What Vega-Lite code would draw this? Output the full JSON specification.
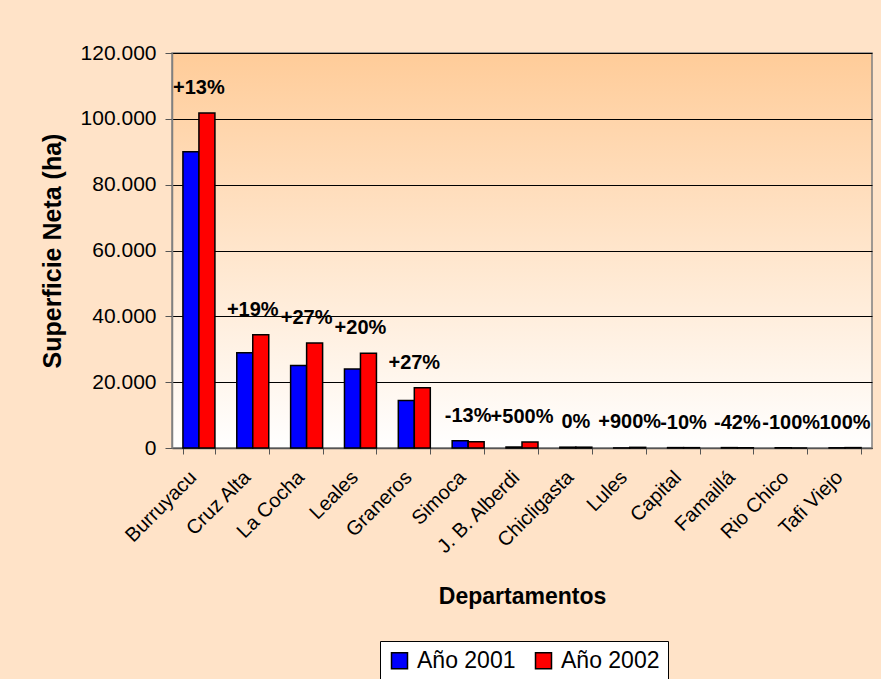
{
  "$schema": "https://vega.github.io/schema/vega-lite/v6.json",
  "width": 700,
  "height": 395,
  "autosize": {"type": "none"},
  "padding": {"left": 172, "top": 53, "right": 9, "bottom": 231},
  "background": "#FFE3C8",
  "config": {
    "font": "Liberation Sans",
    "locale": {"number": {"decimal": ",", "thousands": ".", "grouping": [3], "currency": ["$", ""]}},
    "view": {
      "fill": {"gradient": "linear", "x1": 0, "y1": 0, "x2": 0, "y2": 1,
        "stops": [{"offset": 0, "color": "#FFCC99"}, {"offset": 1, "color": "#FFFFFF"}]},
      "stroke": "#808080",
      "strokeWidth": 1.5
    }
  },
  "data": {"values": [
    {"dept": "Burruyacu", "year": "Año 2001", "value": 90000, "label": "+13%"},
    {"dept": "Burruyacu", "year": "Año 2002", "value": 101800, "label": "+13%"},
    {"dept": "Cruz Alta", "year": "Año 2001", "value": 28900, "label": "+19%"},
    {"dept": "Cruz Alta", "year": "Año 2002", "value": 34400, "label": "+19%"},
    {"dept": "La Cocha", "year": "Año 2001", "value": 25100, "label": "+27%"},
    {"dept": "La Cocha", "year": "Año 2002", "value": 31900, "label": "+27%"},
    {"dept": "Leales", "year": "Año 2001", "value": 24000, "label": "+20%"},
    {"dept": "Leales", "year": "Año 2002", "value": 28800, "label": "+20%"},
    {"dept": "Graneros", "year": "Año 2001", "value": 14400, "label": "+27%"},
    {"dept": "Graneros", "year": "Año 2002", "value": 18300, "label": "+27%"},
    {"dept": "Simoca", "year": "Año 2001", "value": 2200, "label": "-13%"},
    {"dept": "Simoca", "year": "Año 2002", "value": 1900, "label": "-13%"},
    {"dept": "J. B. Alberdi", "year": "Año 2001", "value": 300, "label": "+500%"},
    {"dept": "J. B. Alberdi", "year": "Año 2002", "value": 1800, "label": "+500%"},
    {"dept": "Chicligasta", "year": "Año 2001", "value": 250, "label": "0%"},
    {"dept": "Chicligasta", "year": "Año 2002", "value": 250, "label": "0%"},
    {"dept": "Lules", "year": "Año 2001", "value": 20, "label": "+900%"},
    {"dept": "Lules", "year": "Año 2002", "value": 200, "label": "+900%"},
    {"dept": "Capital", "year": "Año 2001", "value": 120, "label": "-10%"},
    {"dept": "Capital", "year": "Año 2002", "value": 108, "label": "-10%"},
    {"dept": "Famaillá", "year": "Año 2001", "value": 120, "label": "-42%"},
    {"dept": "Famaillá", "year": "Año 2002", "value": 70, "label": "-42%"},
    {"dept": "Rio Chico", "year": "Año 2001", "value": 80, "label": "-100%"},
    {"dept": "Rio Chico", "year": "Año 2002", "value": 0, "label": "-100%"},
    {"dept": "Tafi Viejo", "year": "Año 2001", "value": 60, "label": "100%"},
    {"dept": "Tafi Viejo", "year": "Año 2002", "value": 120, "label": "100%"}
  ]},
  "layer": [
    {
      "mark": {"type": "bar", "stroke": "black", "strokeWidth": 1.5},
      "encoding": {
        "x": {
          "field": "dept", "type": "nominal", "sort": null,
          "scale": {"paddingInner": 0.406, "paddingOuter": 0.203},
          "axis": {
            "title": "Departamentos", "labelAngle": -45, "labelFontSize": 20, "labelColor": "black",
            "labelBaseline": "middle", "labelAlign": "right", "labelPadding": 20, "labelOffset": -6,
            "titleFontSize": 23, "titleFontWeight": "bold", "titleColor": "black", "titlePadding": 28,
            "tickBand": "extent", "tickSize": 6, "tickColor": "#555555", "domainColor": "#555555", "domainWidth": 1.5
          }
        },
        "xOffset": {"field": "year", "type": "nominal", "scale": {"paddingInner": 0, "paddingOuter": 0}},
        "y": {
          "field": "value", "type": "quantitative",
          "scale": {"domain": [0, 120000], "nice": false},
          "axis": {
            "title": "Superficie Neta (ha)", "values": [0, 20000, 40000, 60000, 80000, 100000, 120000],
            "format": ",d", "labelFontSize": 21, "labelColor": "black", "labelPadding": 9,
            "titleFontSize": 25, "titleFontWeight": "bold", "titleColor": "black", "titlePadding": 15,
            "tickSize": 7, "tickColor": "#555555", "domainColor": "#808080", "domainWidth": 1.5,
            "gridColor": "black", "gridWidth": 1
          }
        },
        "color": {
          "field": "year", "type": "nominal",
          "scale": {"range": ["#0000FF", "#FF0000"]},
          "legend": {
            "orient": "none", "legendX": 208, "legendY": 588, "direction": "horizontal", "title": null,
            "symbolType": "square", "symbolSize": 256, "symbolStrokeColor": "black", "symbolStrokeWidth": 1.5,
            "labelFontSize": 23, "labelColor": "black", "fillColor": "white", "strokeColor": "black",
            "padding": 8, "columnPadding": 16, "labelOffset": 6
          }
        }
      }
    },
    {
      "mark": {"type": "text", "fontSize": 20, "fontWeight": "bold", "baseline": "middle", "dy": -25, "color": "black"},
      "encoding": {
        "x": {"field": "dept", "type": "nominal", "sort": null},
        "y": {"aggregate": "max", "field": "value", "type": "quantitative"},
        "text": {"field": "label"}
      }
    }
  ]
}
